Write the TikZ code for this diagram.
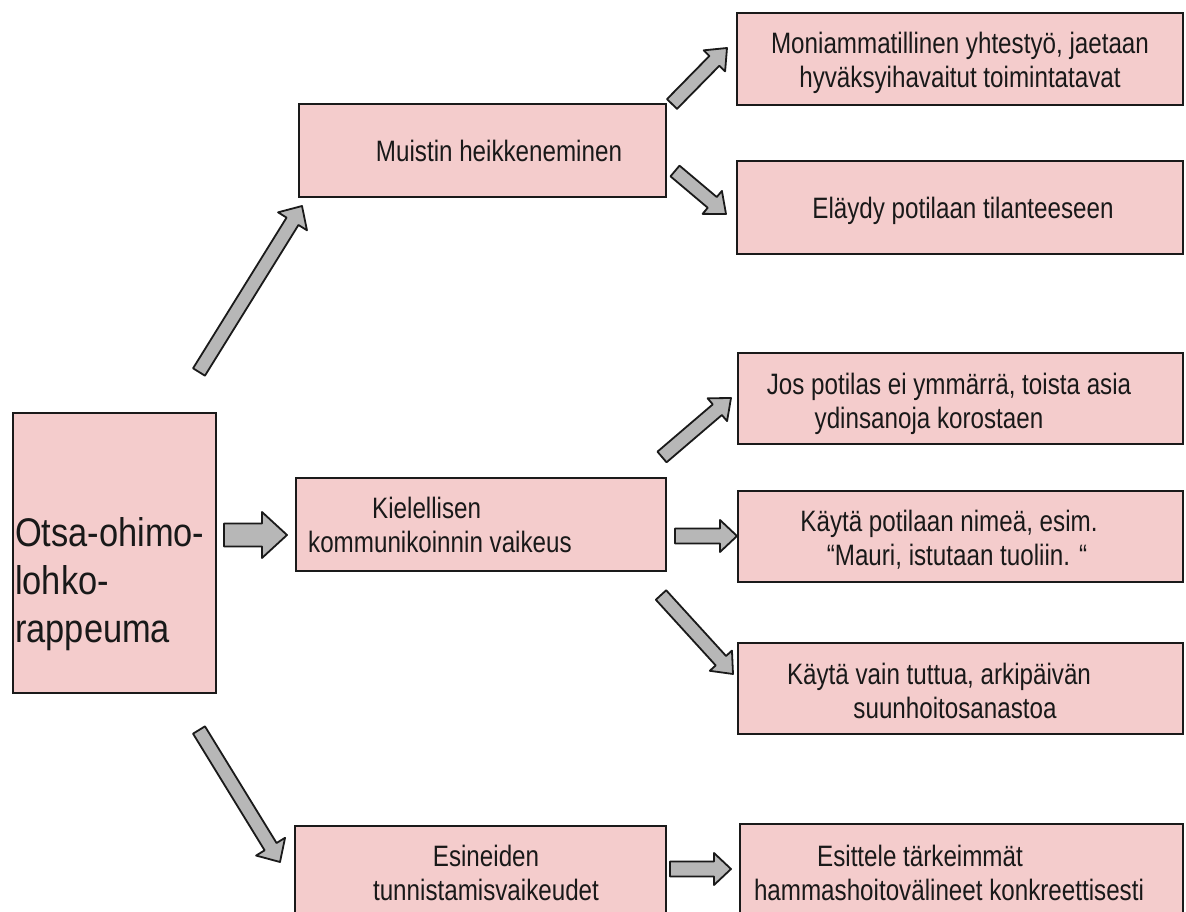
\documentclass[tikz,border=0pt]{standalone}
\usepackage{fontspec}
\setmainfont{Liberation Sans}[FakeStretch=0.82]
\newfontfamily\bigfont{Liberation Sans}[FakeStretch=0.86]
\usetikzlibrary{calc}
\definecolor{boxpink}{HTML}{F4CCCC}
\definecolor{arrgray}{HTML}{B7B7B7}
\definecolor{edgecol}{HTML}{1A1A1A}
\tikzset{
  box/.style={draw=edgecol, line width=2pt, fill=boxpink, anchor=north west, inner sep=0pt},
  txt/.style={inner sep=0pt, font=\fontsize{29.5}{34}\selectfont, align=center, text=black!90},
  barr/.style={draw=edgecol, line width=1.8pt, fill=arrgray, line join=round}
}
\newcommand\blockarrow[5]{%
  \coordinate (bneck) at ($(#2)!#5!(#1)$);
  \draw[barr] ($(#1)!#3!90:(#2)$) -- ($(bneck)!#3!90:(#2)$) -- ($(bneck)!#4!90:(#2)$) -- (#2)
     -- ($(bneck)!#4!-90:(#2)$) -- ($(bneck)!#3!-90:(#2)$) -- ($(#1)!#3!-90:(#2)$) -- cycle;}
\begin{document}
\begin{tikzpicture}[x=1pt,y=-1pt]
\useasboundingbox[fill=white] (0,0) rectangle (1186,912);
% boxes
\node[box, minimum width=203pt, minimum height=280pt] (main) at (12,412) {};
\node[box, minimum width=367pt, minimum height=93pt] (mus) at (298,103) {};
\node[box, minimum width=446pt, minimum height=92pt] (mon) at (736,12) {};
\node[box, minimum width=446pt, minimum height=93pt] (ela) at (736,160) {};
\node[box, minimum width=445pt, minimum height=91pt] (jos) at (737,352) {};
\node[box, minimum width=370pt, minimum height=93pt] (kie) at (295,477) {};
\node[box, minimum width=445pt, minimum height=91pt] (kay1) at (737,490) {};
\node[box, minimum width=445pt, minimum height=91pt] (kay2) at (737,642) {};
\node[box, minimum width=371pt, minimum height=110pt] (esi) at (294,825) {};
\node[box, minimum width=443pt, minimum height=110pt] (est) at (739,823) {};
% texts
\node[txt, font=\bigfont\fontsize{40}{48}\selectfont, align=left, anchor=west] (maint) at (15,584) {Otsa-ohimo-\\lohko-\\rappeuma};
\node[txt] (must) at (499,151) {Muistin heikkeneminen};
\node[txt] (mont) at (960,63) {Moniammatillinen yhtestyö, jaetaan\\hyväksyihavaitut toimintatavat};
\node[txt] (elat) at (963,211) {Eläydy potilaan tilanteeseen};
\node[txt] (jost) at (949,404) {Jos potilas ei ymmärrä, toista asia\\\hspace*{-40pt}ydinsanoja korostaen};
\node[txt, align=left, anchor=west] (kiet) at (308,525) {\hspace*{64pt}Kielellisen\\kommunikoinnin vaikeus};
\node[txt] (kay1t) at (949,540) {Käytä potilaan nimeä, esim.\\\hspace*{16pt}“Mauri, istutaan tuoliin. “};
\node[txt] (kay2t) at (939,691) {Käytä vain tuttua, arkipäivän\\\hspace*{32pt}suunhoitosanastoa};
\node[txt] (esit) at (486,873) {Esineiden\\tunnistamisvaikeudet};
\node[txt] (estt) at (949,873) {\hspace*{-58pt}Esittele tärkeimmät\\hammashoitovälineet konkreettisesti};
% arrows
\coordinate (a1s) at (199,372); \coordinate (a1e) at (302,206);
\coordinate (a2s) at (224,535); \coordinate (a2e) at (287,535);
\coordinate (a3s) at (199,730); \coordinate (a3e) at (280,862);
\coordinate (a4s) at (672,104); \coordinate (a4e) at (727,48);
\coordinate (a5s) at (675,171); \coordinate (a5e) at (726,214);
\coordinate (a6s) at (662,457); \coordinate (a6e) at (731,398);
\coordinate (a7s) at (675,536); \coordinate (a7e) at (737,536);
\coordinate (a8s) at (661,595); \coordinate (a8e) at (733,674);
\coordinate (a9s) at (670,869); \coordinate (a9e) at (731,869);
\blockarrow{a1s}{a1e}{7pt}{17pt}{18pt}
\blockarrow{a2s}{a2e}{11.5pt}{23pt}{25pt}
\blockarrow{a3s}{a3e}{7pt}{17pt}{18pt}
\blockarrow{a4s}{a4e}{7pt}{15pt}{18pt}
\blockarrow{a5s}{a5e}{7pt}{15pt}{18pt}
\blockarrow{a6s}{a6e}{7pt}{15pt}{18pt}
\blockarrow{a7s}{a7e}{7.5pt}{16pt}{17pt}
\blockarrow{a8s}{a8e}{7pt}{15pt}{18pt}
\blockarrow{a9s}{a9e}{7.5pt}{16pt}{17pt}
\end{tikzpicture}
\end{document}
